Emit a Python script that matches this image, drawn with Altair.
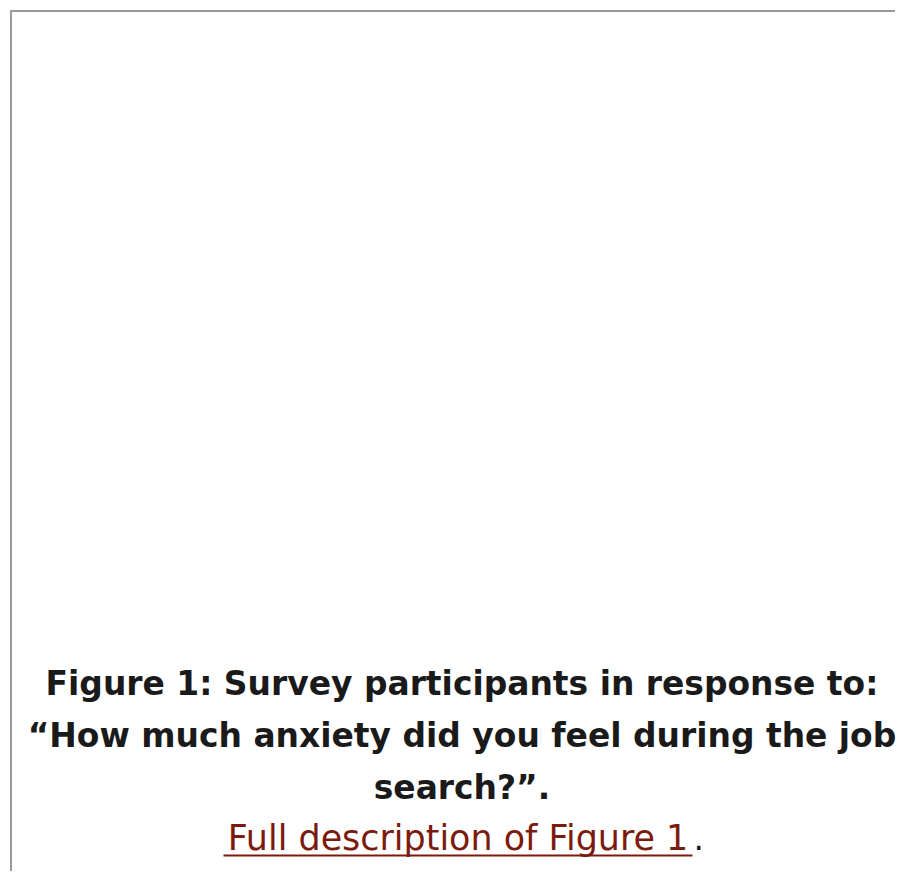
import altair as alt
import pandas as pd

caption_lines = [
    "Figure 1: Survey participants in response to:",
    "\u201cHow much anxiety did you feel during the job",
    "search?\u201d.",
]
caption_line_no = [0, 1, 2]
link_text = ["Full description of Figure 1"]
link_line_no = [3]
period_text = ["."]

cap_df = pd.DataFrame({"text": caption_lines, "line": caption_line_no})
link_df = pd.DataFrame({"text": link_text, "line": link_line_no})
period_df = pd.DataFrame({"text": period_text, "line": link_line_no})

W, H = 889, 863
yscale = alt.Scale(domain=[0, 3], range=[687, 842])
FONT = "DejaVu Sans"

caption = alt.Chart(cap_df).mark_text(
    font=FONT, fontSize=33, fontWeight="bold", color="#1a1a1a",
    align="center", baseline="alphabetic"
).encode(
    x=alt.value(455),
    y=alt.Y("line:Q", scale=yscale, axis=None),
    text="text:N",
)

link = alt.Chart(link_df).mark_text(
    font=FONT, fontSize=35, fontWeight="normal", color="#7b1b0e",
    align="center", baseline="alphabetic"
).encode(
    x=alt.value(451),
    y=alt.Y("line:Q", scale=yscale, axis=None),
    text="text:N",
)

period = alt.Chart(period_df).mark_text(
    font=FONT, fontSize=33, color="#1a1a1a",
    align="left", baseline="alphabetic"
).encode(
    x=alt.value(687),
    y=alt.Y("line:Q", scale=yscale, axis=None),
    text="text:N",
)

underline = alt.Chart(link_df).mark_rule(color="#7b1b0e", strokeWidth=2).encode(
    x=alt.value(216), x2=alt.value(686), y=alt.value(847.5)
)

border_top = alt.Chart(link_df).mark_rule(color="#9a9a9a", strokeWidth=2).encode(
    x=alt.value(2), x2=alt.value(W), y=alt.value(1)
)
border_left = alt.Chart(link_df).mark_rule(color="#9a9a9a", strokeWidth=2).encode(
    x=alt.value(3), y=alt.value(0), y2=alt.value(H)
)

chart = alt.layer(border_top, border_left, caption, link, period, underline).properties(
    width=W, height=H, padding=0
).configure_view(stroke=None)

chart.save("out.html", embed_options={"renderer": "svg", "actions": False})
